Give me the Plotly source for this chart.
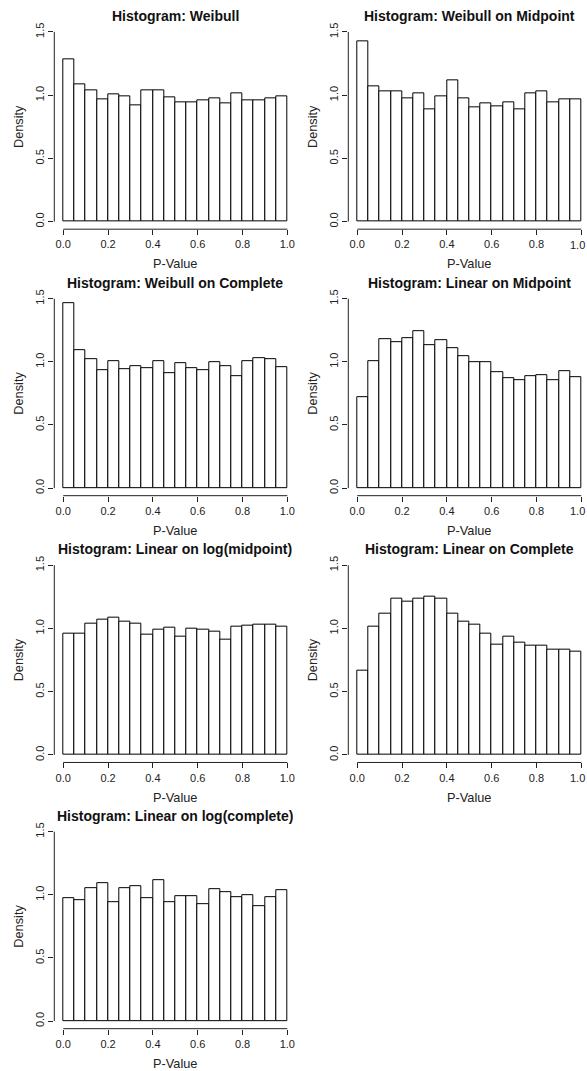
import plotly.graph_objects as go

# ---- data ----
bin_mids = [0.025, 0.075, 0.125, 0.175, 0.225, 0.275, 0.325, 0.375, 0.425, 0.475,
            0.525, 0.575, 0.625, 0.675, 0.725, 0.775, 0.825, 0.875, 0.925, 0.975]
bin_width = 0.05

titles = [
    "Histogram: Weibull",
    "Histogram: Weibull on Midpoint",
    "Histogram: Weibull on Complete",
    "Histogram: Linear on Midpoint",
    "Histogram: Linear on log(midpoint)",
    "Histogram: Linear on Complete",
    "Histogram: Linear on log(complete)",
]

weibull = [1.287, 1.087, 1.037, 0.968, 1.003, 0.992, 0.918, 1.037, 1.037, 0.984,
           0.945, 0.945, 0.958, 0.974, 0.934, 1.018, 0.958, 0.958, 0.974, 0.992]
weibull_mid = [1.424, 1.068, 1.034, 1.034, 0.974, 1.018, 0.884, 0.992, 1.121, 0.974,
               0.900, 0.934, 0.908, 0.945, 0.884, 1.011, 1.029, 0.945, 0.966, 0.966]
weibull_comp = [1.468, 1.089, 1.020, 0.931, 1.004, 0.946, 0.968, 0.952, 1.004, 0.912,
                0.986, 0.952, 0.936, 0.994, 0.968, 0.886, 1.004, 1.031, 1.020, 0.960]
linear_mid = [0.717, 1.004, 1.181, 1.155, 1.189, 1.247, 1.136, 1.171, 1.105, 1.047,
              0.994, 0.994, 0.917, 0.870, 0.852, 0.883, 0.894, 0.852, 0.928, 0.878]
linear_logmid = [0.961, 0.961, 1.037, 1.071, 1.089, 1.055, 1.037, 0.953, 0.987, 1.005,
                 0.937, 0.997, 0.987, 0.971, 0.913, 1.013, 1.021, 1.029, 1.029, 1.013]
linear_comp = [0.668, 1.013, 1.121, 1.232, 1.213, 1.232, 1.255, 1.232, 1.121, 1.055,
               1.029, 0.961, 0.868, 0.937, 0.887, 0.861, 0.861, 0.834, 0.834, 0.818]
linear_logcomp = [0.970, 0.960, 1.055, 1.089, 0.944, 1.055, 1.070, 0.970, 1.113, 0.944,
                  0.986, 0.986, 0.928, 1.047, 1.020, 0.978, 0.997, 0.912, 0.978, 1.036]

series = [weibull, weibull_mid, weibull_comp, linear_mid,
          linear_logmid, linear_comp, linear_logcomp]

x_ticks = [0.0, 0.2, 0.4, 0.6, 0.8, 1.0]
x_ticklabels = ["0.0", "0.2", "0.4", "0.6", "0.8", "1.0"]
y_ticks = [0.0, 0.5, 1.0, 1.5]
y_ticklabels = ["0.0", "0.5", "1.0", "1.5"]

# ---- layout geometry (pixels) ----
W, H = 587, 1071
col_left = [54.3, 348.3]
col_right = [296.3, 587.0]
col_xrange = [[-0.04, 1.04], [-0.04, 1.0254]]
row_top = [22.4, 289.7, 556.7, 823.7]
row_bot = [227.6, 494.6, 761.9, 1028.6]

FONT = "Liberation Sans, Arial, sans-serif"
TICK_SIZE = 11
LABEL_SIZE = 12.75
fig = go.Figure()
shapes = []
annotations = []
layout = {}

for i, (title, vals) in enumerate(zip(titles, series)):
    r, c = divmod(i, 2)
    n = i + 1
    xa = "x" if n == 1 else f"x{n}"
    ya = "y" if n == 1 else f"y{n}"
    fig.add_trace(go.Bar(
        x=bin_mids, y=vals, width=bin_width,
        marker=dict(color="white", line=dict(color="black", width=1)),
        xaxis=xa, yaxis=ya, showlegend=False, hoverinfo="x+y",
    ))
    xd = [col_left[c] / W, col_right[c] / W]
    yd = [1 - row_bot[r] / H, 1 - row_top[r] / H]
    layout[f"xaxis{n}" if n > 1 else "xaxis"] = dict(
        domain=xd, range=col_xrange[c], anchor=ya,
        showgrid=False, zeroline=False, showline=False,
        tickmode="array", tickvals=x_ticks, ticktext=x_ticklabels,
        ticks="outside", ticklen=5, tickwidth=1, tickcolor="#222",
        tickfont=dict(family=FONT, size=TICK_SIZE, color="#222"),
        fixedrange=True,
    )
    layout[f"yaxis{n}" if n > 1 else "yaxis"] = dict(
        domain=yd, range=[-0.06, 1.56], anchor=xa,
        showgrid=False, zeroline=False, showline=False,
        tickmode="array", tickvals=y_ticks, ticktext=y_ticklabels,
        ticks="outside", ticklen=5, tickwidth=1, tickcolor="#222",
        tickangle=-90,
        tickfont=dict(family=FONT, size=TICK_SIZE, color="#222"),
        fixedrange=True,
    )
    # R-style axis lines spanning only the tick range
    shapes.append(dict(type="line", xref=xa, yref="paper",
                       x0=0, x1=1, y0=yd[0], y1=yd[0],
                       line=dict(color="#222", width=1)))
    shapes.append(dict(type="line", xref="paper", yref=ya,
                       x0=xd[0], x1=xd[0], y0=0, y1=1.5,
                       line=dict(color="#222", width=1)))
    cx = (xd[0] + xd[1]) / 2 if c == 0 else (col_left[1] + 242.0 / 2) / W
    annotations.append(dict(text=f"<b>{title}</b>", xref="paper", yref="paper",
                            x=cx, y=1 - (row_top[r] - 8.5) / H,
                            xanchor="center", yanchor="middle", showarrow=False,
                            font=dict(family=FONT, size=14, color="#111")))
    annotations.append(dict(text="P-Value", xref="paper", yref="paper",
                            x=cx, y=1 - (row_top[r] + 240) / H,
                            xanchor="center", yanchor="middle", showarrow=False,
                            font=dict(family=FONT, size=LABEL_SIZE, color="#222")))
    annotations.append(dict(text="Density", xref="paper", yref="paper",
                            x=(col_left[c] - 36) / W,
                            y=1 - (row_top[r] + row_bot[r]) / 2 / H,
                            xanchor="center", yanchor="middle", showarrow=False,
                            textangle=-90,
                            font=dict(family=FONT, size=LABEL_SIZE, color="#222")))
    if c == 1:
        # last tick label sits at the page edge; keep it fully visible
        annotations.append(dict(text=x_ticklabels[-1], xref="paper", yref="paper",
                                x=1.0, y=1 - (row_bot[r] + 15.5) / H,
                                xanchor="right", yanchor="middle", showarrow=False,
                                xshift=-0.5,
                                font=dict(family=FONT, size=TICK_SIZE, color="#222")))

fig.update_layout(
    width=W, height=H,
    margin=dict(l=0, r=0, t=0, b=0),
    paper_bgcolor="white", plot_bgcolor="white",
    bargap=0, shapes=shapes, annotations=annotations,
    **layout,
)

fig.write_html("out.html", config={"displayModeBar": False},
               post_script="document.body.style.margin='0';")
